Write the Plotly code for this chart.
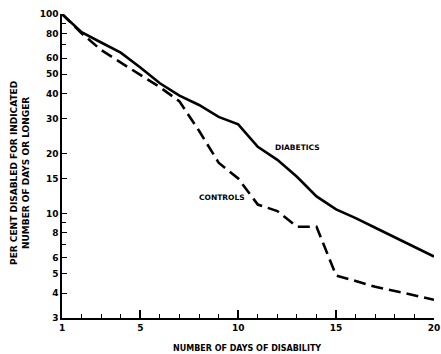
import plotly.graph_objects as go
import math

days = list(range(1, 21))
diabetics = [100, 81, 72, 64, 54, 45, 39, 35, 30.5, 28, 21.6, 18.6, 15.3, 12.2, 10.5, 9.5, 8.5, 7.6, 6.8, 6.1]
controls = [100, 80, 66, 57, 49.5, 43, 36.5, 26, 18, 15, 11.1, 10.3, 8.6, 8.6, 4.9, 4.6, 4.3, 4.1, 3.9, 3.7]

x_ticks = [1, 5, 10, 15, 20]
y_ticks = [3, 4, 5, 6, 8, 10, 15, 20, 30, 40, 50, 60, 80, 100]
y_minor = [7, 9, 70, 90]

ff = "DejaVu Sans"

fig = go.Figure()
fig.add_trace(go.Scatter(x=days, y=diabetics, mode="lines",
                         line=dict(color="black", width=2.6), showlegend=False))
fig.add_trace(go.Scatter(x=days, y=controls, mode="lines",
                         line=dict(color="black", width=2.6, dash="12px,6px"), showlegend=False))

fig.add_annotation(x=13.05, y=math.log10(21.4), text="DIABETICS", showarrow=False,
                   font=dict(family=ff, size=7.5, color="black", weight="bold"))
fig.add_annotation(x=9.15, y=math.log10(12.0), text="CONTROLS", showarrow=False,
                   font=dict(family=ff, size=7.5, color="black", weight="bold"))

# axis titles
fig.add_annotation(xref="paper", yref="paper", x=-0.113, y=0.477, xanchor="center", yanchor="middle",
                   textangle=-90, showarrow=False,
                   text="PER CENT DISABLED FOR INDICATED<br>NUMBER OF DAYS OR LONGER",
                   font=dict(family=ff, size=9, color="black", weight="bold"))
fig.add_annotation(xref="paper", yref="paper", x=0.497, y=-0.099, xanchor="center", yanchor="middle",
                   showarrow=False, text="NUMBER OF DAYS OF DISABILITY",
                   font=dict(family=ff, size=8, color="black", weight="bold"))

fig.update_layout(
    width=441, height=354,
    margin=dict(l=62, r=7, t=14, b=36),
    paper_bgcolor="white", plot_bgcolor="white",
    font=dict(family=ff, color="black"),
    xaxis=dict(
        range=[1, 20], tickvals=x_ticks, ticktext=[str(v) for v in x_ticks],
        ticks="inside", ticklen=8, tickwidth=1.5, tickcolor="black",
        minor=dict(dtick=1, tick0=0, ticks="inside", ticklen=4, tickwidth=1.2, tickcolor="black"),
        showline=True, linecolor="black", linewidth=1.5, showgrid=False, zeroline=False,
        tickfont=dict(family=ff, size=9, color="black", weight="bold"),
        automargin=False,
    ),
    yaxis=dict(
        type="log", range=[math.log10(3), 2],
        tickvals=y_ticks, ticktext=[str(v) for v in y_ticks],
        ticks="inside", ticklen=5, tickwidth=1.2, tickcolor="black",
        minor=dict(tickvals=y_minor, ticks="inside", ticklen=4, tickwidth=1.0, tickcolor="black"),
        showline=True, linecolor="black", linewidth=1.5, showgrid=False, zeroline=False,
        tickfont=dict(family=ff, size=9, color="black", weight="bold"),
        automargin=False,
    ),
)

fig.write_html("out.html", config={"displayModeBar": False},
               post_script="document.body.style.margin='0';document.body.style.overflow='hidden';")
